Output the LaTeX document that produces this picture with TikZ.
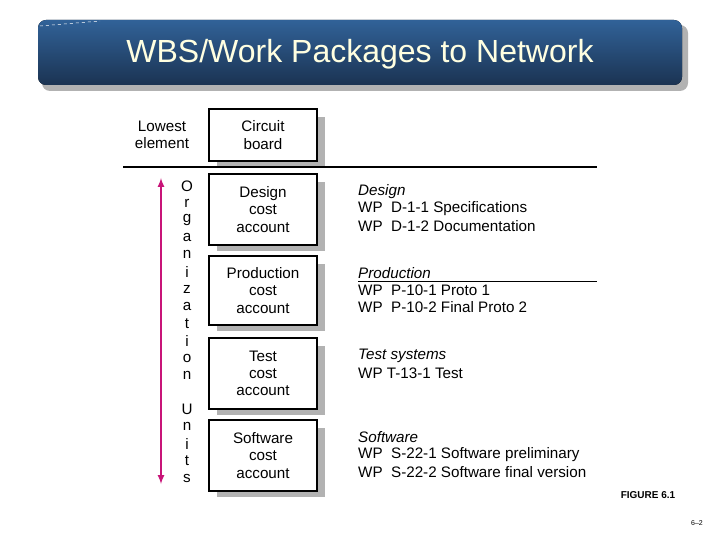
\documentclass[tikz,border=0pt]{standalone}
\usepackage{fontspec}
\setmainfont{Liberation Sans}
\definecolor{magarrow}{RGB}{200,20,120}
\definecolor{bartop}{RGB}{49,98,152}
\definecolor{barbot}{RGB}{27,51,82}
\definecolor{titletext}{RGB}{255,255,225}
\begin{document}
\begin{tikzpicture}[x=1pt,y=-1pt,
  box/.style={draw=black,line width=2pt,fill=white,minimum width=108pt,align=center,inner sep=0pt,font=\fontsize{15.2}{17.2}\selectfont},
  lbl/.style={anchor=west,inner sep=0pt,font=\fontsize{15.2}{17}\selectfont},
  letter/.style={inner sep=0pt,font=\fontsize{15.2}{17}\selectfont}]
\useasboundingbox (0,0) rectangle (720,540);
% title bar
\fill[black!30,rounded corners=8pt] (42,25) rectangle (688,91);
\fill[top color=bartop, bottom color=barbot, rounded corners=8pt] (38,20) rectangle (682,85);
\draw[white,dashed,line width=0.5pt] (40,26) -- (100,21);
\node[text=titletext,font=\fontsize{32}{36}\selectfont] (title) at (360,54) {WBS/Work Packages to Network};
% boxes
\foreach \n/\a/\b/\t in {cb/109/161/{Circuit\\board},ds/174/245/{Design\\cost\\account},pr/256/325/{Production\\cost\\account},ts/338/409/{Test\\cost\\account},sw/420/491/{Software\\cost\\account}}{
  \fill[black!30] (217,\a+8) rectangle (325,\b+6);
  \node[box,minimum height={\b-\a}] (\n) at (263,{(\a+\b)/2}) {\t};
}
\node[align=center,inner sep=0pt,font=\fontsize{15.2}{17.2}\selectfont] (low) at (162,135) {Lowest\\element};
\coordinate (l1) at (123,167); \coordinate (l2) at (597,167);
\draw[line width=1.2pt] (l1) -- (l2);
% arrow
\coordinate (a1) at (161,178); \coordinate (a2) at (161,484);
\draw[magarrow,line width=2pt,{latex}-{latex}] (a1) -- (a2);
\foreach \c [count=\i] in {O,r,g,a,n,i,z,a,t,i,o,n}{
  \node[letter] (o\i) at (187,{186+(\i-1)*17.2}) {\c};}
\foreach \c [count=\i] in {U,n,i,t,s}{
  \node[letter] (u\i) at (187,{409+(\i-1)*17.25}) {\c};}
% right labels
\node[lbl] (t1) at (358,192) {\itshape Design};
\node[lbl] (t2) at (358,209) {WP\ \ D-1-1 Specifications};
\node[lbl] (t3) at (358,226) {WP\ \ D-1-2 Documentation};
\node[lbl] (t4) at (358,273) {\itshape Production};
\coordinate (p1) at (358,281); \coordinate (p2) at (597,281);
\draw[line width=0.8pt] (p1) -- (p2);
\node[lbl] (t5) at (358,290) {WP\ \ P-10-1 Proto 1};
\node[lbl] (t6) at (358,307) {WP\ \ P-10-2 Final Proto 2};
\node[lbl] (t7) at (358,356) {\itshape Test systems};
\node[lbl] (t8) at (358,373) {WP T-13-1 Test};
\node[lbl] (t9) at (358,437) {\itshape Software};
\node[lbl] (t10) at (358,455) {WP\ \ S-22-1 Software preliminary};
\node[lbl] (t11) at (358,472) {WP\ \ S-22-2 Software final version};
\node[font=\fontsize{10}{12}\selectfont\bfseries,inner sep=0pt] (fig) at (648,495) {FIGURE 6.1};
\node[font=\fontsize{7}{8}\selectfont,inner sep=0pt] (pg) at (697,523) {6–2};
\end{tikzpicture}
\end{document}
